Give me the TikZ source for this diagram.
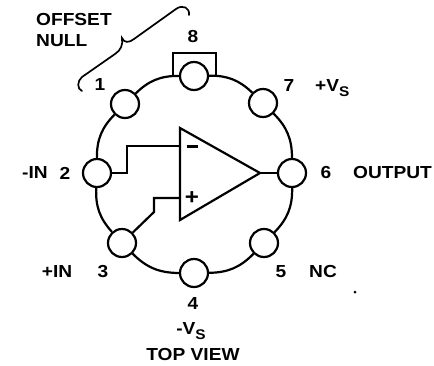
\documentclass[tikz,border=0pt]{standalone}
\usepackage{fontspec}
\setmainfont{Liberation Sans}[FakeStretch=1.1]
\newcommand{\subS}{\raisebox{-4.5pt}{\fontsize{14}{14}\selectfont S}}
\tikzset{
    pin/.style={draw, circle, line width=2.2pt, minimum size=28pt, inner sep=0pt},
    lab/.style={inner sep=0pt, font=\fontsize{17.4}{19}\selectfont\bfseries},
    wire/.style={line width=2.2pt}
}
\begin{document}
\begin{tikzpicture}[x=1pt, y=-1pt, line join=miter]
    \useasboundingbox (0,0) rectangle (434,365);
    % Pines
    \node[pin] (P1) at (125,104) {};
    \node[pin] (P2) at (97,173) {};
    \node[pin] (P3) at (122,243) {};
    \node[pin] (P4) at (194,273) {};
    \node[pin] (P5) at (264,243) {};
    \node[pin] (P6) at (292,173) {};
    \node[pin] (P7) at (263,103) {};
    \node[pin] (P8) at (194,76) {};

    % Amplificador
    \coordinate (TA) at (180,128);
    \coordinate (TB) at (180,220);
    \coordinate (TC) at (260,173);
    \draw[wire] (TA) -- (TC) -- (TB) -- cycle;
    \coordinate (INN) at (180,146);
    \coordinate (INP) at (180,198);
    \node[lab] (MINUS) at (192,146.5) {\rule{11pt}{2.5pt}};
    \node[lab, font=\fontsize{22}{23}\selectfont\bfseries] (PLUS) at (192,198) {+};

    % Conexiones
    \draw[wire] (P1) to[bend left=22.5] (P8);
    \draw[wire] (P8) to[bend left=22.5] (P7);
    \draw[wire] (P7) to[bend left=22.5] (P6);
    \draw[wire] (P6) to[bend left=22.5] (P5);
    \draw[wire] (P5) to[bend left=22.5] (P4);
    \draw[wire] (P4) to[bend left=22.5] (P3);
    \draw[wire] (P3) to[bend left=22.5] (P2);
    \draw[wire] (P2) to[bend left=22.5] (P1);
    \draw[wire] (P2) -- (127,173) -- (127,146) -- (INN);
    \draw[wire] (P3) -- (154,212) -- (154,198) -- (INP);
    \draw[wire] (TC) -- (P6);
    \draw[wire] (173,77) -- (173,53) -- (216,53) -- (216,77);

    % Llave
    \draw[line width=1.7pt, line cap=round] (82,91) .. controls (77,89) and (77,81) .. (82,77)
        -- (115,54) .. controls (121,50) and (123,45) .. (122,38)
        .. controls (124,43) and (129,43) .. (134,39)
        -- (176,9) .. controls (183,4) and (190,8) .. (189,15);

    % Etiquetas
    \node[lab, anchor=west] (OFFSET) at (36,20) {OFFSET};
    \node[lab, anchor=west] (NULL) at (36,41) {NULL};
    \node[lab] (N1) at (100,85) {1};
    \node[lab] (N2) at (65,173) {2};
    \node[lab] (N3) at (103,272) {3};
    \node[lab] (N4) at (193,304) {4};
    \node[lab] (N5) at (281,272) {5};
    \node[lab] (N6) at (326,173) {6};
    \node[lab] (N7) at (289,86) {7};
    \node[lab] (N8) at (193,37) {8};
    \node[lab] (LIN) at (35,173) {-IN};
    \node[lab] (LIP) at (57,272) {+IN};
    \node[lab] (LVN) at (191,331) {-V\subS};
    \node[lab, anchor=west] (LVP) at (315,88) {+V\subS};
    \node[lab, anchor=west] (LOUT) at (353,173) {OUTPUT};
    \node[lab, anchor=west] (LNC) at (309,272) {NC};
    \node[lab] (TOP) at (193,355) {TOP VIEW};
    \node[circle, fill, inner sep=0pt, minimum size=3pt] (SPECK) at (355,292) {};
\end{tikzpicture}
\end{document}
